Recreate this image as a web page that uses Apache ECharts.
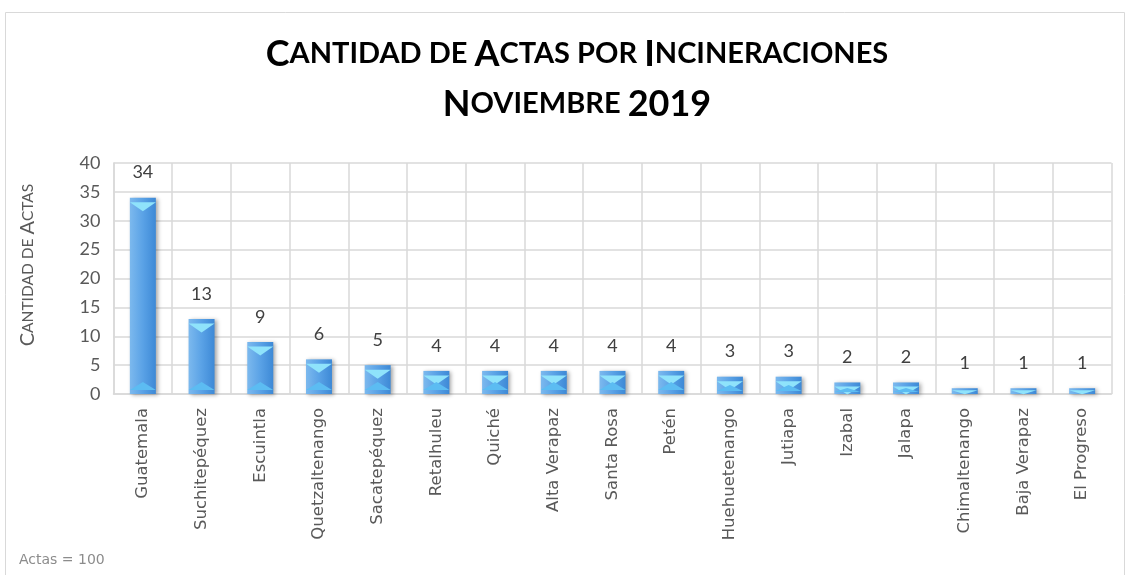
<!DOCTYPE html>
<html lang="es">
	<head>
		<meta charset="UTF-8">
		<script src="https://cdn.jsdelivr.net/npm/echarts@6/dist/echarts.min.js" type="text/javascript" charset="utf-8"></script>
		<title>Cantidad de Actas por Incineraciones</title>
		<style>
			html, body { margin: 0; padding: 0; background: #fff; }
		</style>
	</head>
	<body>
		<div id="main" style="width: 1129px; height: 575px;"></div>

		<script type="text/javascript">
			// departamentos (eje X)
			var departamentos = ['Guatemala', 'Suchitepéquez', 'Escuintla', 'Quetzaltenango', 'Sacatepéquez',
				'Retalhuleu', 'Quiché', 'Alta Verapaz', 'Santa Rosa', 'Petén', 'Huehuetenango', 'Jutiapa',
				'Izabal', 'Jalapa', 'Chimaltenango', 'Baja Verapaz', 'El Progreso'];
			// cantidad de actas
			var actas = [34, 13, 9, 6, 5, 4, 4, 4, 4, 4, 3, 3, 2, 2, 1, 1, 1];
			// ticks del eje Y
			var yTicks = [0, 5, 10, 15, 20, 25, 30, 35, 40];

			var fontTitulo = 'Lato';
			var fontEje = '"DejaVu Sans", sans-serif';

			// alto del area de dibujo (px) para limitar los adornos de las barras pequeñas
			var altoGrid = 231;
			var pxPorActa = altoGrid / yTicks[yTicks.length - 1];

			// versalitas: minusculas pasan a mayusculas pequeñas
			function versalitas(txt, big, small) {
				var out = '';
				var run = '';
				var mode = null;
				for (var i = 0; i < txt.length; i++) {
					var c = txt[i];
					var m = (c !== c.toUpperCase()) ? small : big;
					if (c === ' ') m = mode || big;
					if (m !== mode && run) {
						out += '{' + mode + '|' + run + '}';
						run = '';
					}
					mode = m;
					run += c.toUpperCase();
				}
				if (run) out += '{' + mode + '|' + run + '}';
				return out;
			}

			// chevron superior y triangulo inferior, recortados en barras bajas
			var chevronSup = actas.map(function(v) {
				var h = v * pxPorActa;
				return { value: v, symbolSize: [26, Math.min(9, h * 0.7)] };
			});
			var trianguloInf = actas.map(function(v) {
				var h = v * pxPorActa;
				return { value: v, symbolSize: [26, h < 8 ? 0 : Math.min(8, h * 0.35)] };
			});

			var richTitulo = {
				b: { fontFamily: fontTitulo, fontWeight: 'bold', fontSize: 36, color: '#000' },
				s: { fontFamily: fontTitulo, fontWeight: 'bold', fontSize: 29, color: '#000' }
			};

			var myChart = echarts.init(document.getElementById('main'));

			var option = {
				backgroundColor: '#fff',
				animation: false,
				title: [{
					text: versalitas('Cantidad de Actas por Incineraciones', 'b', 's'),
					left: 572,
					top: 31,
					textAlign: 'center',
					textStyle: { rich: richTitulo }
				}, {
					text: versalitas('Noviembre 2019', 'b', 's'),
					left: 572,
					top: 81,
					textAlign: 'center',
					textStyle: { rich: richTitulo }
				}],
				graphic: [{
					type: 'rect',
					shape: { x: 5.5, y: 12.5, width: 1119, height: 570 },
					style: { fill: 'none', stroke: '#d9d9d9', lineWidth: 1 },
					silent: true
				}, {
					type: 'text',
					x: 19,
					y: 560,
					style: {
						text: 'Actas = 100',
						verticalAlign: 'middle',
						fontFamily: fontEje,
						fontSize: 14,
						fill: '#8c8c8c'
					}
				}, {
					type: 'text',
					x: 28,
					y: 265,
					rotation: Math.PI / 2,
					style: {
						text: versalitas('Cantidad de Actas', 'b', 's'),
						align: 'center',
						verticalAlign: 'middle',
						rich: {
							b: { fontFamily: fontTitulo, fontSize: 20, fill: '#595959' },
							s: { fontFamily: fontTitulo, fontSize: 15.5, fill: '#595959' }
						}
					}
				}],
				grid: {
					left: 113.5,
					right: 17.5,
					top: 163,
					bottom: 181,
					containLabel: false
				},
				xAxis: {
					type: 'category',
					data: departamentos,
					axisLine: { show: true, lineStyle: { color: '#d9d9d9', width: 1.5 } },
					axisTick: { show: false },
					splitLine: { show: true, lineStyle: { color: '#d9d9d9', width: 1.5 } },
					axisLabel: {
						rotate: 90,
						margin: 14,
						interval: 0,
						fontFamily: fontEje,
						fontSize: 16.5,
						color: '#595959'
					}
				},
				yAxis: {
					type: 'value',
					min: yTicks[0],
					max: yTicks[yTicks.length - 1],
					interval: 5,
					axisLine: { show: true, lineStyle: { color: '#d9d9d9', width: 1.5 } },
					axisTick: { show: false },
					splitLine: { show: true, lineStyle: { color: '#d9d9d9', width: 1.5 } },
					axisLabel: {
						margin: 13,
						fontFamily: fontTitulo,
						fontSize: 18,
						color: '#595959'
					}
				},
				series: [{
					name: 'Actas',
					type: 'bar',
					data: actas,
					barWidth: 26,
					itemStyle: {
						color: new echarts.graphic.LinearGradient(0, 0, 1, 0, [
							{ offset: 0, color: '#7cb9ee' },
							{ offset: 0.5, color: '#5aa2e6' },
							{ offset: 1, color: '#3d89d6' }
						]),
						shadowColor: 'rgba(0,0,0,0.35)',
						shadowBlur: 4,
						shadowOffsetX: 2,
						shadowOffsetY: 1
					},
					label: {
						show: true,
						position: 'top',
						distance: 16,
						fontFamily: fontTitulo,
						fontSize: 18,
						color: '#404040'
					},
					z: 2
				}, {
					type: 'pictorialBar',
					data: chevronSup,
					symbol: 'path://M0,0 L10,0 L5,4 Z',
					symbolPosition: 'end',
					symbolOffset: [0, '50%'],
					itemStyle: { color: '#8fe3fb' },
					silent: true,
					z: 3
				}, {
					type: 'pictorialBar',
					data: trianguloInf,
					symbol: 'path://M0,4 L5,0 L10,4 Z',
					symbolPosition: 'start',
					symbolOffset: [0, '-50%'],
					barGap: '-100%',
					itemStyle: { color: '#5cbcf2' },
					silent: true,
					z: 3
				}]
			};

			myChart.setOption(option);
		</script>
	</body>
</html>
